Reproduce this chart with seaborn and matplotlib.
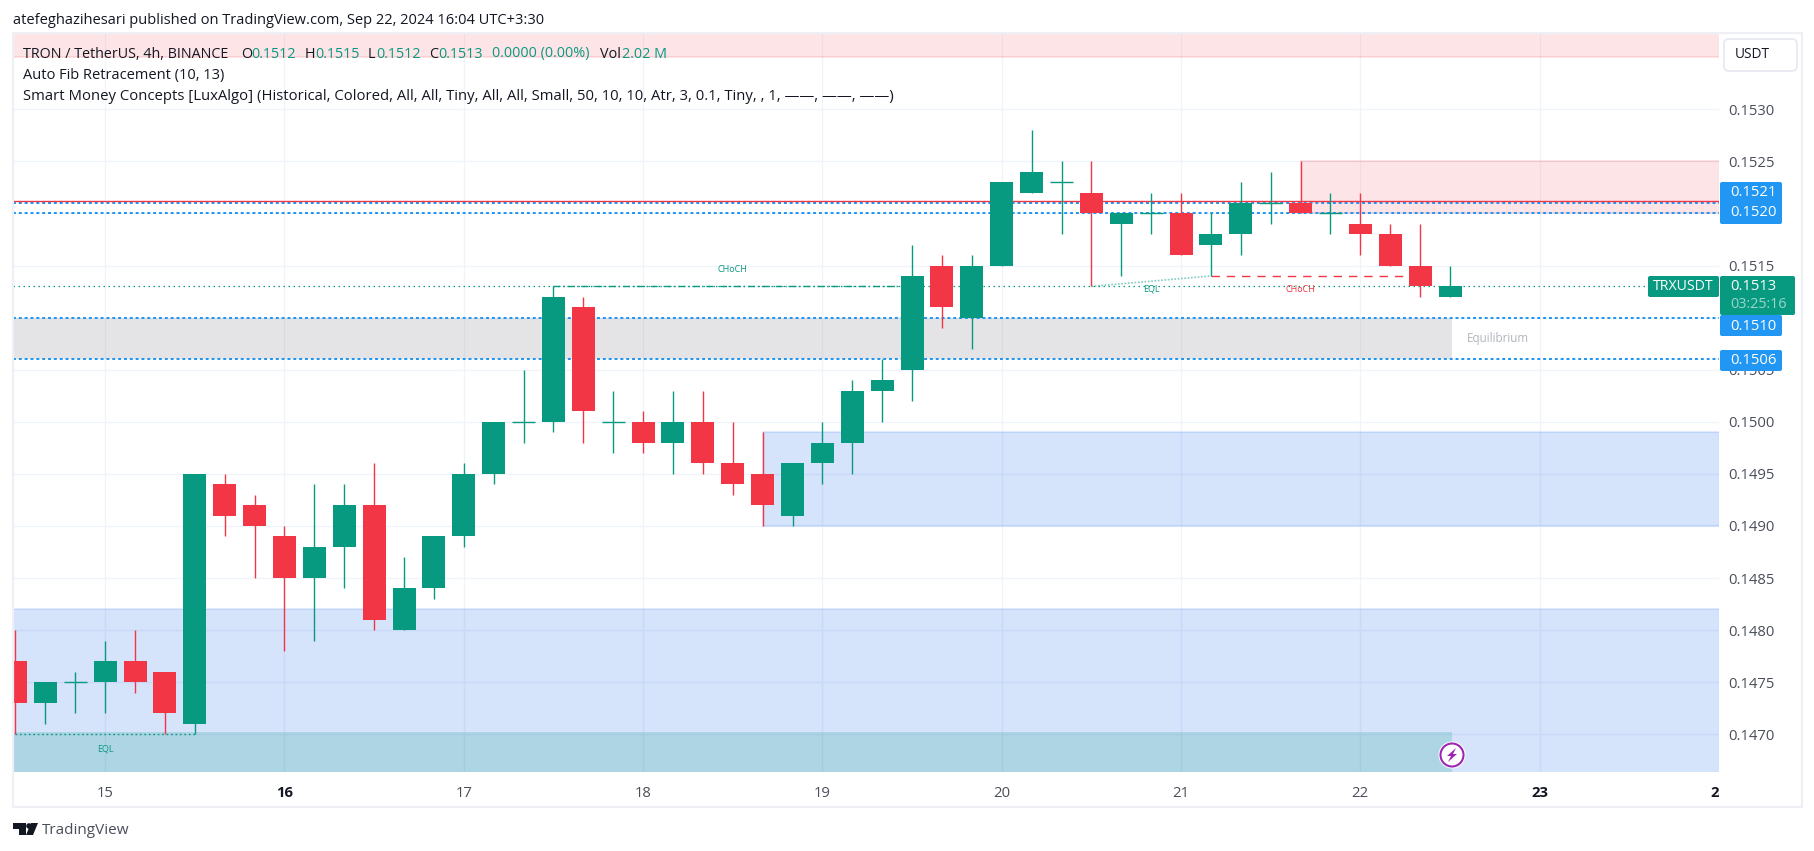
import numpy as np
import pandas as pd
import seaborn as sns
import matplotlib.pyplot as plt
from matplotlib.patches import Rectangle, FancyBboxPatch, Circle, Polygon
from matplotlib.transforms import IdentityTransform
from matplotlib.colors import to_rgba

# 4h candles, one per bar
opens = [.1477, .1473, .1475, .1475, .1477, .1476, .1471, .1494, .1492, .1489, .1485, .1488, .1492, .1480, .1484, .1489, .1495,
         .1500, .1500, .1511, .1500, .1500, .1498, .1500, .1496, .1495, .1491, .1496, .1498, .1503, .1505, .1515, .1510, .1515,
         .1522, .1523, .1522, .1519, .1520, .1520, .1517, .1518, .1521, .1521, .1520, .1519, .1518, .1515, .1512]
highs = [.1480, .1475, .1476, .1479, .1480, .1476, .1495, .1495, .1493, .1490, .1494, .1494, .1496, .1487, .1489, .1496, .1500,
         .1505, .1513, .1512, .1503, .1501, .1503, .1503, .1500, .1499, .1496, .1500, .1504, .1506, .1517, .1516, .1516, .1523,
         .1528, .1525, .1525, .1520, .1522, .1522, .1520, .1523, .1524, .1525, .1522, .1522, .1519, .1519, .1515]
lows = [.1470, .1471, .1472, .1472, .1474, .1470, .1470, .1489, .1485, .1478, .1479, .1484, .1480, .1480, .1483, .1488, .1494,
        .1498, .1499, .1498, .1497, .1497, .1495, .1495, .1493, .1490, .1490, .1494, .1495, .1500, .1502, .1509, .1507, .1515,
        .1522, .1518, .1513, .1514, .1518, .1516, .1514, .1516, .1519, .1520, .1518, .1516, .1515, .1512, .1512]
closes = [.1473, .1475, .1475, .1477, .1475, .1472, .1495, .1491, .1490, .1485, .1488, .1492, .1481, .1484, .1489, .1495, .1500,
          .1500, .1512, .1501, .1500, .1498, .1500, .1496, .1494, .1492, .1496, .1498, .1503, .1504, .1514, .1511, .1515, .1523,
          .1524, .1523, .1520, .1520, .1520, .1516, .1518, .1521, .1521, .1520, .1520, .1518, .1515, .1513, .1513]

price_ticks = [.1470, .1475, .1480, .1485, .1490, .1495, .1500, .1505, .1510, .1515, .1520, .1525, .1530]
day_labels = ['15', '16', '17', '18', '19', '20', '21', '22', '23', '24']
day_bars = [3, 9, 15, 21, 27, 33, 39, 45, 51, 57]
fib_levels = [.1520, .1521, .1510, .1506]
last_price = .1513

GREEN = '#089981'
RED = '#f23645'
BLUE = '#226cef'
TAG = '#2196f3'
W, H = 1814, 851
LEFT, RIGHT, TOP, BOTTOM = 13, 1719, 34, 772
PX_PER_BAR = 29.93
FONT = 'Open Sans'

df = pd.DataFrame({'bar': range(len(opens)), 'open': opens, 'high': highs, 'low': lows, 'close': closes})
df['body'] = (df['close'] - df['open']).abs()
df['base'] = df[['open', 'close']].min(axis=1)
df['colour'] = np.where(df['close'] >= df['open'], GREEN, RED)

sns.set_theme(style='white')
plt.rcParams['font.family'] = [FONT, 'DejaVu Sans']

fig = plt.figure(figsize=(W / 100, H / 100), dpi=100)
ax = fig.add_axes([LEFT / W, 1 - BOTTOM / H, (RIGHT - LEFT) / W, (BOTTOM - TOP) / H])

xmin = (LEFT - 15.5) / PX_PER_BAR
xmax = (RIGHT - 15.5) / PX_PER_BAR
ymin = .1470 - (BOTTOM - 734.3) / 104170
ymax = .1470 + (734.3 - TOP) / 104170


def zone(x0, x1, y0, y1, colour, alpha, edge=None):
    ax.add_patch(Rectangle((x0, y0), x1 - x0, y1 - y0, fc=to_rgba(colour, alpha),
                           ec=to_rgba(edge, .17) if edge else 'none', lw=1.1, zorder=2))


# grid
for p in price_ticks:
    ax.axhline(p, color='#f0f3fa', lw=.95, zorder=1)
for b in day_bars:
    ax.axvline(b, color='#f0f3fa', lw=.95, zorder=1)

# order blocks and equilibrium
zone(xmin - 2, xmax + 2, .1535, .156, RED, .125, RED)
zone(43, xmax + 2, .1520, .1525, RED, .125, RED)
zone(25, xmax + 2, .1490, .1499, BLUE, .19, BLUE)
zone(xmin - 2, xmax + 2, .1460, .1482, BLUE, .19, BLUE)
zone(xmin - 2, 48.05, .1460, .14702, GREEN, .19)
zone(xmin - 2, 48.05, .1506, .1510, '#787b86', .2)

# levels
for p in fib_levels:
    ax.axhline(p, color=TAG, lw=1.45, ls=(0, (1.45, 1.45)), zorder=3)
ax.axhline(.15212, color=RED, lw=1.0, zorder=3)
ax.axhline(last_price, color=GREEN, lw=.9, ls=(0, (1.2, 2.8)), zorder=3)

# structure lines
ax.plot([18, 30], [.1513, .1513], color=GREEN, lw=1, ls=(0, (5, 2, 1, 2)), zorder=3)
ax.plot([36, 40], [.1513, .1514], color=GREEN, lw=1.2, ls=(0, (1, 1)), alpha=.5, zorder=3)
ax.plot([40, 47], [.1514, .1514], color=RED, lw=1, ls=(0, (6, 5)), zorder=3)
ax.plot([0, 6], [.1470, .1470], color=GREEN, lw=1, ls=(0, (1.2, 2)), zorder=3)
for x, y, label, colour in [(24, .15146, 'CHoCH', GREEN), (38, .15127, 'EQL', GREEN),
                            (43, .15127, 'CHoCH', RED), (3, .14686, 'EQL', GREEN)]:
    ax.text(x, y, label, color=colour, fontsize=6.5, ha='center', va='center', zorder=3)
ax.text(48.55, .1508, 'Equilibrium', color='#b2b5be', fontsize=8.4, ha='left', va='center', zorder=3)

# candles
ax.vlines(df['bar'], df['low'], df['high'], colors=df['colour'], lw=1.0, zorder=4)
for colour, part in df[df['body'] > 0].groupby('colour'):
    sns.barplot(data=part, x='bar', y='body', bottom=part['base'].values, native_scale=True, color=colour,
                saturation=1, width=.77, linewidth=0, errorbar=None, ax=ax, zorder=5)
doji = df[df['body'] == 0]
ax.hlines(doji['open'], doji['bar'] - .385, doji['bar'] + .385, colors=doji['colour'], lw=1.0, zorder=5)

ax.set_xlim(xmin, xmax)
ax.set_ylim(ymin, ymax)
ax.set_xlabel('')
ax.set_ylabel('')
ax.yaxis.tick_right()
ax.set_yticks(price_ticks)
# the 0.1510 and 0.1520 ticks sit under the price tags
ax.set_yticklabels(['' if p in (.1510, .1520) else f'{p:.4f}' for p in price_ticks])
ax.set_xticks(day_bars)
ax.set_xticklabels(day_labels)
ax.tick_params(axis='y', length=0, pad=6.5, labelsize=10.7, labelcolor='#4a4e59')
ax.tick_params(axis='x', length=0, pad=10, labelsize=10.7, labelcolor='#4a4e59')
for lab in ax.get_xticklabels():
    if lab.get_text() in ('16', '23', '24'):
        lab.set_fontweight('bold')
        lab.set_color('#131722')
    lab.set_clip_path(Rectangle((0, 0), RIGHT, H, transform=IdentityTransform()))
    lab.set_clip_on(True)
for s in ax.spines.values():
    s.set_visible(False)

# everything around the chart, in pixels of the picture
over = fig.add_axes([0, 0, 1, 1], zorder=5)
over.set_xlim(0, W)
over.set_ylim(H, 0)
over.axis('off')
over.patch.set_alpha(0)


def txt(x, y, s, colour='#131722', size=10.4, **kw):
    over.text(x, y, s, color=colour, fontsize=size, va='center', ha=kw.pop('ha', 'left'), **kw)


def tag(x0, y0, x1, y1, colour):
    over.add_patch(FancyBboxPatch((x0, y0), x1 - x0, y1 - y0, boxstyle='round,pad=0,rounding_size=2',
                                  fc=colour, ec='none', zorder=3))


over.add_patch(Rectangle((13, 33), 1789, 774, fc='none', ec='#eff0f5', lw=1.6, zorder=1))
over.add_patch(FancyBboxPatch((1724, 39), 73, 32, boxstyle='round,pad=0,rounding_size=5', fc='white',
                              ec='#e6e8f0', lw=1.2, zorder=3))
txt(1735, 55, 'USDT', '#131722', 9.8)

tag(1720, 182, 1782, 224, TAG)
txt(1730, 192, '0.1521', 'white', 10.7, zorder=4)
txt(1730, 213, '0.1520', 'white', 10.7, zorder=4)
tag(1720, 315, 1782, 336, TAG)
txt(1730, 326, '0.1510', 'white', 10.7, zorder=4)
tag(1720, 350, 1782, 371, TAG)
txt(1730, 361, '0.1506', 'white', 10.7, zorder=4)
tag(1720, 276, 1795, 315, GREEN)
txt(1730, 286.5, '0.1513', 'white', 10.7, zorder=4)
txt(1730, 304, '03:25:16', '#9bd6ca', 10.4, zorder=4)
tag(1648, 276, 1719, 297, GREEN)
txt(1653, 287, 'TRXUSDT', 'white', 10.2, zorder=4)

# header and legend
txt(13, 20, 'atefeghazihesari published on TradingView.com, Sep 22, 2024 16:04 UTC+3:30', size=10.5)
txt(23, 54, 'TRON / TetherUS, 4h, BINANCE', size=10.3)
for x, lab, x2, val in [(241, 'O', 251, '0.1512'), (305, 'H', 315, '0.1515'), (368, 'L', 376, '0.1512'),
                        (429, 'C', 438, '0.1513')]:
    txt(x, 54, lab)
    txt(x2, 54, val, GREEN)
txt(492, 54, '0.0000 (0.00%)', GREEN)
txt(600, 54, 'Vol')
txt(622, 54, '2.02 M', GREEN)
txt(23, 75.5, 'Auto Fib Retracement (10, 13)', size=10.5)
txt(23, 97, 'Smart Money Concepts [LuxAlgo] (Historical, Colored, All, All, Tiny, All, All, Small, 50, 10, 10, Atr, 3, 0.1, Tiny, , 1, ——, ——, ——)',
    size=10.7)

# logo
over.add_patch(Polygon([(13, 823), (26, 823), (26, 835), (19, 835), (19, 829), (13, 829)], fc='#131722', ec='none'))
over.add_patch(Circle((29, 826), 2.8, fc='#131722', ec='none'))
over.add_patch(Polygon([(31, 823), (38, 823), (33, 835), (26, 835)], fc='#131722', ec='none'))
txt(42, 830, 'TradingView', '#4a4e59', 11)

# lightning badge
over.add_patch(Circle((1452, 755), 13.5, fc='white', ec='none', zorder=3))
over.add_patch(Circle((1452, 755), 11.5, fc='white', ec='#9c27b0', lw=1.5, zorder=4))
over.add_patch(Polygon([(1456, 748), (1447, 756), (1451, 756), (1448, 762), (1457, 754), (1453, 754)],
                       fc='#9c27b0', ec='none', zorder=5))

fig.savefig('out.png', dpi=100, facecolor='white')
